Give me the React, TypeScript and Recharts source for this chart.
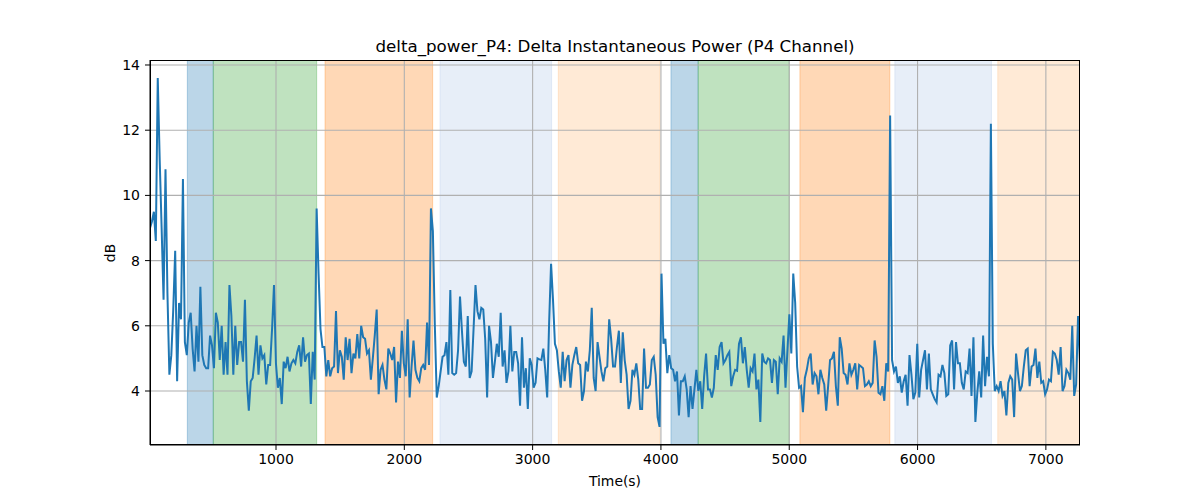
import React from 'react';
import { LineChart, Line, XAxis, YAxis, ReferenceArea, ReferenceLine } from 'recharts';

// sampling of the delta power trace (seconds)
const T0 = 18;
const DT = 15.1;

// delta power (dB)
const powerStart = [
  9.0, 9.2, 9.5, 8.6, 13.6, 11.1, 9.0, 6.8, 10.8, 7.0, 4.5, 5.1, 6.5, 8.3, 4.3, 6.7, 6.2, 10.5, 5.5, 5.1,
  6.1, 6.4, 5.3, 4.6, 6.0, 4.9, 7.2, 5.1, 4.8, 4.7, 4.7, 5.7, 5.4, 4.7, 6.4, 6.1, 4.95, 6.0, 4.5, 5.5,
  4.5, 7.25, 6.3, 4.5, 6.0, 4.8, 5.5, 5.5, 4.9, 6.8, 4.3, 3.4, 4.3, 4.4, 5.0, 5.7, 4.5, 5.4, 5.0, 5.1,
  4.2, 4.8, 4.8, 5.9, 7.25, 4.85, 4.1,
];
const powerFirstSpike = [
  4.4, 3.6, 4.9, 4.7, 5.05, 4.6, 4.85, 4.95, 4.85, 5.2, 5.4, 4.75, 5.65, 4.9, 5.1, 5.15, 3.6, 5.2, 4.35, 9.6,
  7.6, 5.9, 5.35, 5.35, 4.45, 4.95, 4.45, 4.7, 4.75, 6.45, 4.55, 5.25, 5.05, 4.35, 5.65, 4.95, 5.6, 4.55, 5.15, 5.0,
  5.75, 5.0, 6.0, 5.65, 5.6, 5.15, 5.25, 4.35, 5.0, 5.7, 6.5, 3.9, 4.65, 4.8, 4.35, 4.05, 5.3, 5.15, 4.95, 5.35,
  3.65, 4.9,
];
const powerSecondSpike = [
  4.4, 5.85, 4.85, 4.45, 6.2, 3.8, 4.75, 5.55, 4.65, 4.4, 4.3, 4.7, 4.8, 4.65, 6.1, 4.8, 9.6, 8.9, 6.05, 3.8,
  4.15, 4.6, 5.05, 5.1, 5.5, 4.5, 7.1, 4.55, 4.5, 4.55, 5.25, 6.9, 5.85, 4.9, 4.75, 6.3, 4.4, 4.6, 5.9, 7.25,
  6.45, 6.2, 6.55, 6.5, 5.6, 3.8, 6.0, 5.5, 4.4, 4.9, 5.45, 5.05, 6.4, 4.75, 5.25, 4.25, 4.6, 6.0, 4.6, 5.2,
  5.2, 4.85, 3.55, 5.65, 4.1, 4.7, 3.45,
];
const powerMiddle = [
  5.0, 4.8, 4.1, 4.25, 5.0, 4.97, 4.95, 5.3, 4.65, 3.8, 6.1, 7.9, 6.8, 5.45, 5.25, 4.6, 4.1, 5.2, 4.3, 4.95,
  5.1, 4.1, 4.8, 5.1, 5.35, 4.85, 4.8, 3.7, 4.0, 4.9, 4.6, 5.25, 6.55, 4.4, 4.0, 5.5, 5.05, 4.6, 4.3, 4.7,
  4.75, 6.2, 5.6, 4.75, 4.75, 5.35, 5.85, 4.25, 5.8, 4.95, 4.5, 3.45, 3.7, 4.65, 4.5, 4.85, 4.35, 3.45, 3.45, 5.3,
  4.1, 4.1, 4.2, 4.95, 5.05, 4.5, 3.2, 2.9, 7.6,
];
const powerSecondCycle = [
  5.45, 5.6, 4.55, 5.1, 4.7, 4.65, 4.3, 4.6, 3.25, 4.3, 4.3, 4.45, 4.05, 3.2, 4.15, 3.45, 4.05, 4.65, 4.0, 4.3,
  3.45, 4.45, 5.15, 4.05, 4.05, 3.8, 4.1, 5.1, 4.65, 5.35, 5.5, 4.85, 4.95, 5.1, 5.2, 4.15, 4.45, 4.65, 4.62, 5.45,
  5.65, 4.85, 5.35, 4.65, 4.1, 4.7, 4.6, 5.15, 4.05, 4.35, 3.05, 5.15, 4.9, 4.85, 5.0, 4.95, 4.25, 4.95, 4.9, 3.9,
  5.0, 4.9, 5.7, 4.1, 5.25, 6.35, 5.15, 7.6, 6.7,
];
const powerLateSpike = [
  4.75, 4.1, 4.15, 3.35, 4.4, 4.65, 5.0, 5.15, 4.2, 4.55, 4.45, 3.9, 4.65, 4.4, 4.2, 3.4, 4.15, 4.95, 5.0, 5.2,
  4.15, 3.55, 5.65, 5.3, 4.55, 4.5, 4.2, 4.85, 4.5, 4.65, 4.85, 4.05, 4.8, 4.75, 4.7, 4.15, 4.2, 4.3, 4.15, 4.25,
  5.55, 5.05, 3.95, 3.9, 4.15, 3.7, 4.85, 4.6, 12.45, 4.95, 4.6, 4.75, 4.25, 4.45, 3.95, 4.3, 4.5, 3.55, 5.1, 4.5,
  3.75, 3.95, 5.45, 3.8, 4.65, 4.95, 5.25, 4.05, 5.15,
];
const powerEnd = [
  4.05, 3.9, 3.75, 3.65, 4.5, 4.45, 4.8, 4.55, 3.85, 3.9, 5.4, 5.55, 4.05, 5.5, 4.85, 4.85, 4.25, 4.05, 4.6, 4.55,
  5.3, 3.85, 5.65, 3.05, 3.95, 4.6, 3.8, 5.7, 4.15, 5.05, 4.45, 12.2, 5.45, 4.0, 4.15, 4.0, 4.3, 3.85, 4.0, 3.25,
  4.25, 4.45, 4.35, 3.2, 5.15, 4.55, 4.0, 4.15, 4.75, 5.25, 5.3, 4.15, 4.75, 4.8, 5.3, 4.4, 4.9, 4.25, 4.3, 3.9,
  4.05, 4.35, 4.3, 5.2, 5.15, 4.95, 4.5, 5.35, 4.0, 4.15, 4.65, 4.55, 4.35, 6.0, 3.85, 4.2, 6.3, 4.85,
];

// shaded stage intervals (seconds)
const stageStarts = [309, 511, 1382, 2278, 3200, 4078, 4290, 5083, 5823, 6625];
const stageEnds = [511, 1317, 2221, 3148, 3992, 4290, 5000, 5784, 6576, 7266];
const stageKinds = ['a', 'b', 'c', 'd', 'e', 'a', 'b', 'c', 'd', 'e'];

const xTicks = [1000, 2000, 3000, 4000, 5000, 6000, 7000];
const yTicks = [4, 6, 8, 10, 12, 14];

const stageColors: Record<string, string> = {
  a: '#1f77b4',
  b: '#2ca02c',
  c: '#ff7f0e',
  d: '#aec7e8',
  e: '#ffbb78',
};

const power = [
  ...powerStart,
  ...powerFirstSpike,
  ...powerSecondSpike,
  ...powerMiddle,
  ...powerSecondCycle,
  ...powerLateSpike,
  ...powerEnd,
];
const data = power.map((v, i) => ({ t: T0 + i * DT, v }));

const X_MIN = 18;
const X_MAX = 7266;
const Y_MIN = 2.344;
const Y_MAX = 14.153;

const font = 'DejaVu Sans, sans-serif';
const tickStyle = { fill: '#000', fontSize: 14, fontFamily: font };

export default function App() {
  return (
    <div style={{ position: 'absolute', left: 0, top: 0, width: 1200, height: 500, background: '#fff' }}>
      <div
        style={{
          position: 'absolute', left: 150, top: 36, width: 930, textAlign: 'center',
          fontFamily: font, fontSize: 16.7, lineHeight: '20px', color: '#000',
        }}
      >
        delta_power_P4: Delta Instantaneous Power (P4 Channel)
      </div>
      <LineChart width={1200} height={500} data={data} margin={{ top: 60, right: 120, bottom: 0, left: 0 }}>
        <XAxis
          dataKey="t"
          type="number"
          domain={[X_MIN, X_MAX]}
          ticks={xTicks}
          allowDataOverflow
          height={55}
          tick={tickStyle}
          tickSize={5}
          tickMargin={4}
          axisLine={{ stroke: '#000' }}
          tickLine={{ stroke: '#000' }}
        />
        <YAxis
          type="number"
          domain={[Y_MIN, Y_MAX]}
          ticks={yTicks}
          allowDataOverflow
          width={150}
          tick={tickStyle}
          tickSize={5}
          tickMargin={5}
          axisLine={{ stroke: '#000' }}
          tickLine={{ stroke: '#000' }}
        />
        {stageStarts.map((s, i) => (
          <ReferenceArea
            key={'stage' + i}
            x1={s}
            x2={stageEnds[i]}
            y1={Y_MIN}
            y2={Y_MAX}
            fill={stageColors[stageKinds[i]]}
            fillOpacity={0.3}
            stroke={stageColors[stageKinds[i]]}
            strokeOpacity={0.3}
            ifOverflow="hidden"
          />
        ))}
        {xTicks.map((t) => (
          <ReferenceLine key={'gx' + t} x={t} stroke="#b0b0b0" strokeWidth={1.1} />
        ))}
        {yTicks.map((t) => (
          <ReferenceLine key={'gy' + t} y={t} stroke="#b0b0b0" strokeWidth={1.1} />
        ))}
        <Line
          type="linear"
          dataKey="v"
          stroke="#1f77b4"
          strokeWidth={2}
          dot={false}
          activeDot={false}
          isAnimationActive={false}
        />
      </LineChart>
      <div
        style={{
          position: 'absolute', left: 150, top: 60, width: 930, height: 385,
          border: '1px solid #000', boxSizing: 'border-box', pointerEvents: 'none',
        }}
      />
      <div
        style={{
          position: 'absolute', left: 150, top: 471, width: 930, textAlign: 'center',
          fontFamily: font, fontSize: 13.9, lineHeight: '20px', color: '#000',
        }}
      >
        Time(s)
      </div>
      <div
        style={{
          position: 'absolute', left: 60, top: 243, width: 100, textAlign: 'center',
          fontFamily: font, fontSize: 13.9, lineHeight: '20px', color: '#000',
          transform: 'rotate(-90deg)',
        }}
      >
        dB
      </div>
    </div>
  );
}
